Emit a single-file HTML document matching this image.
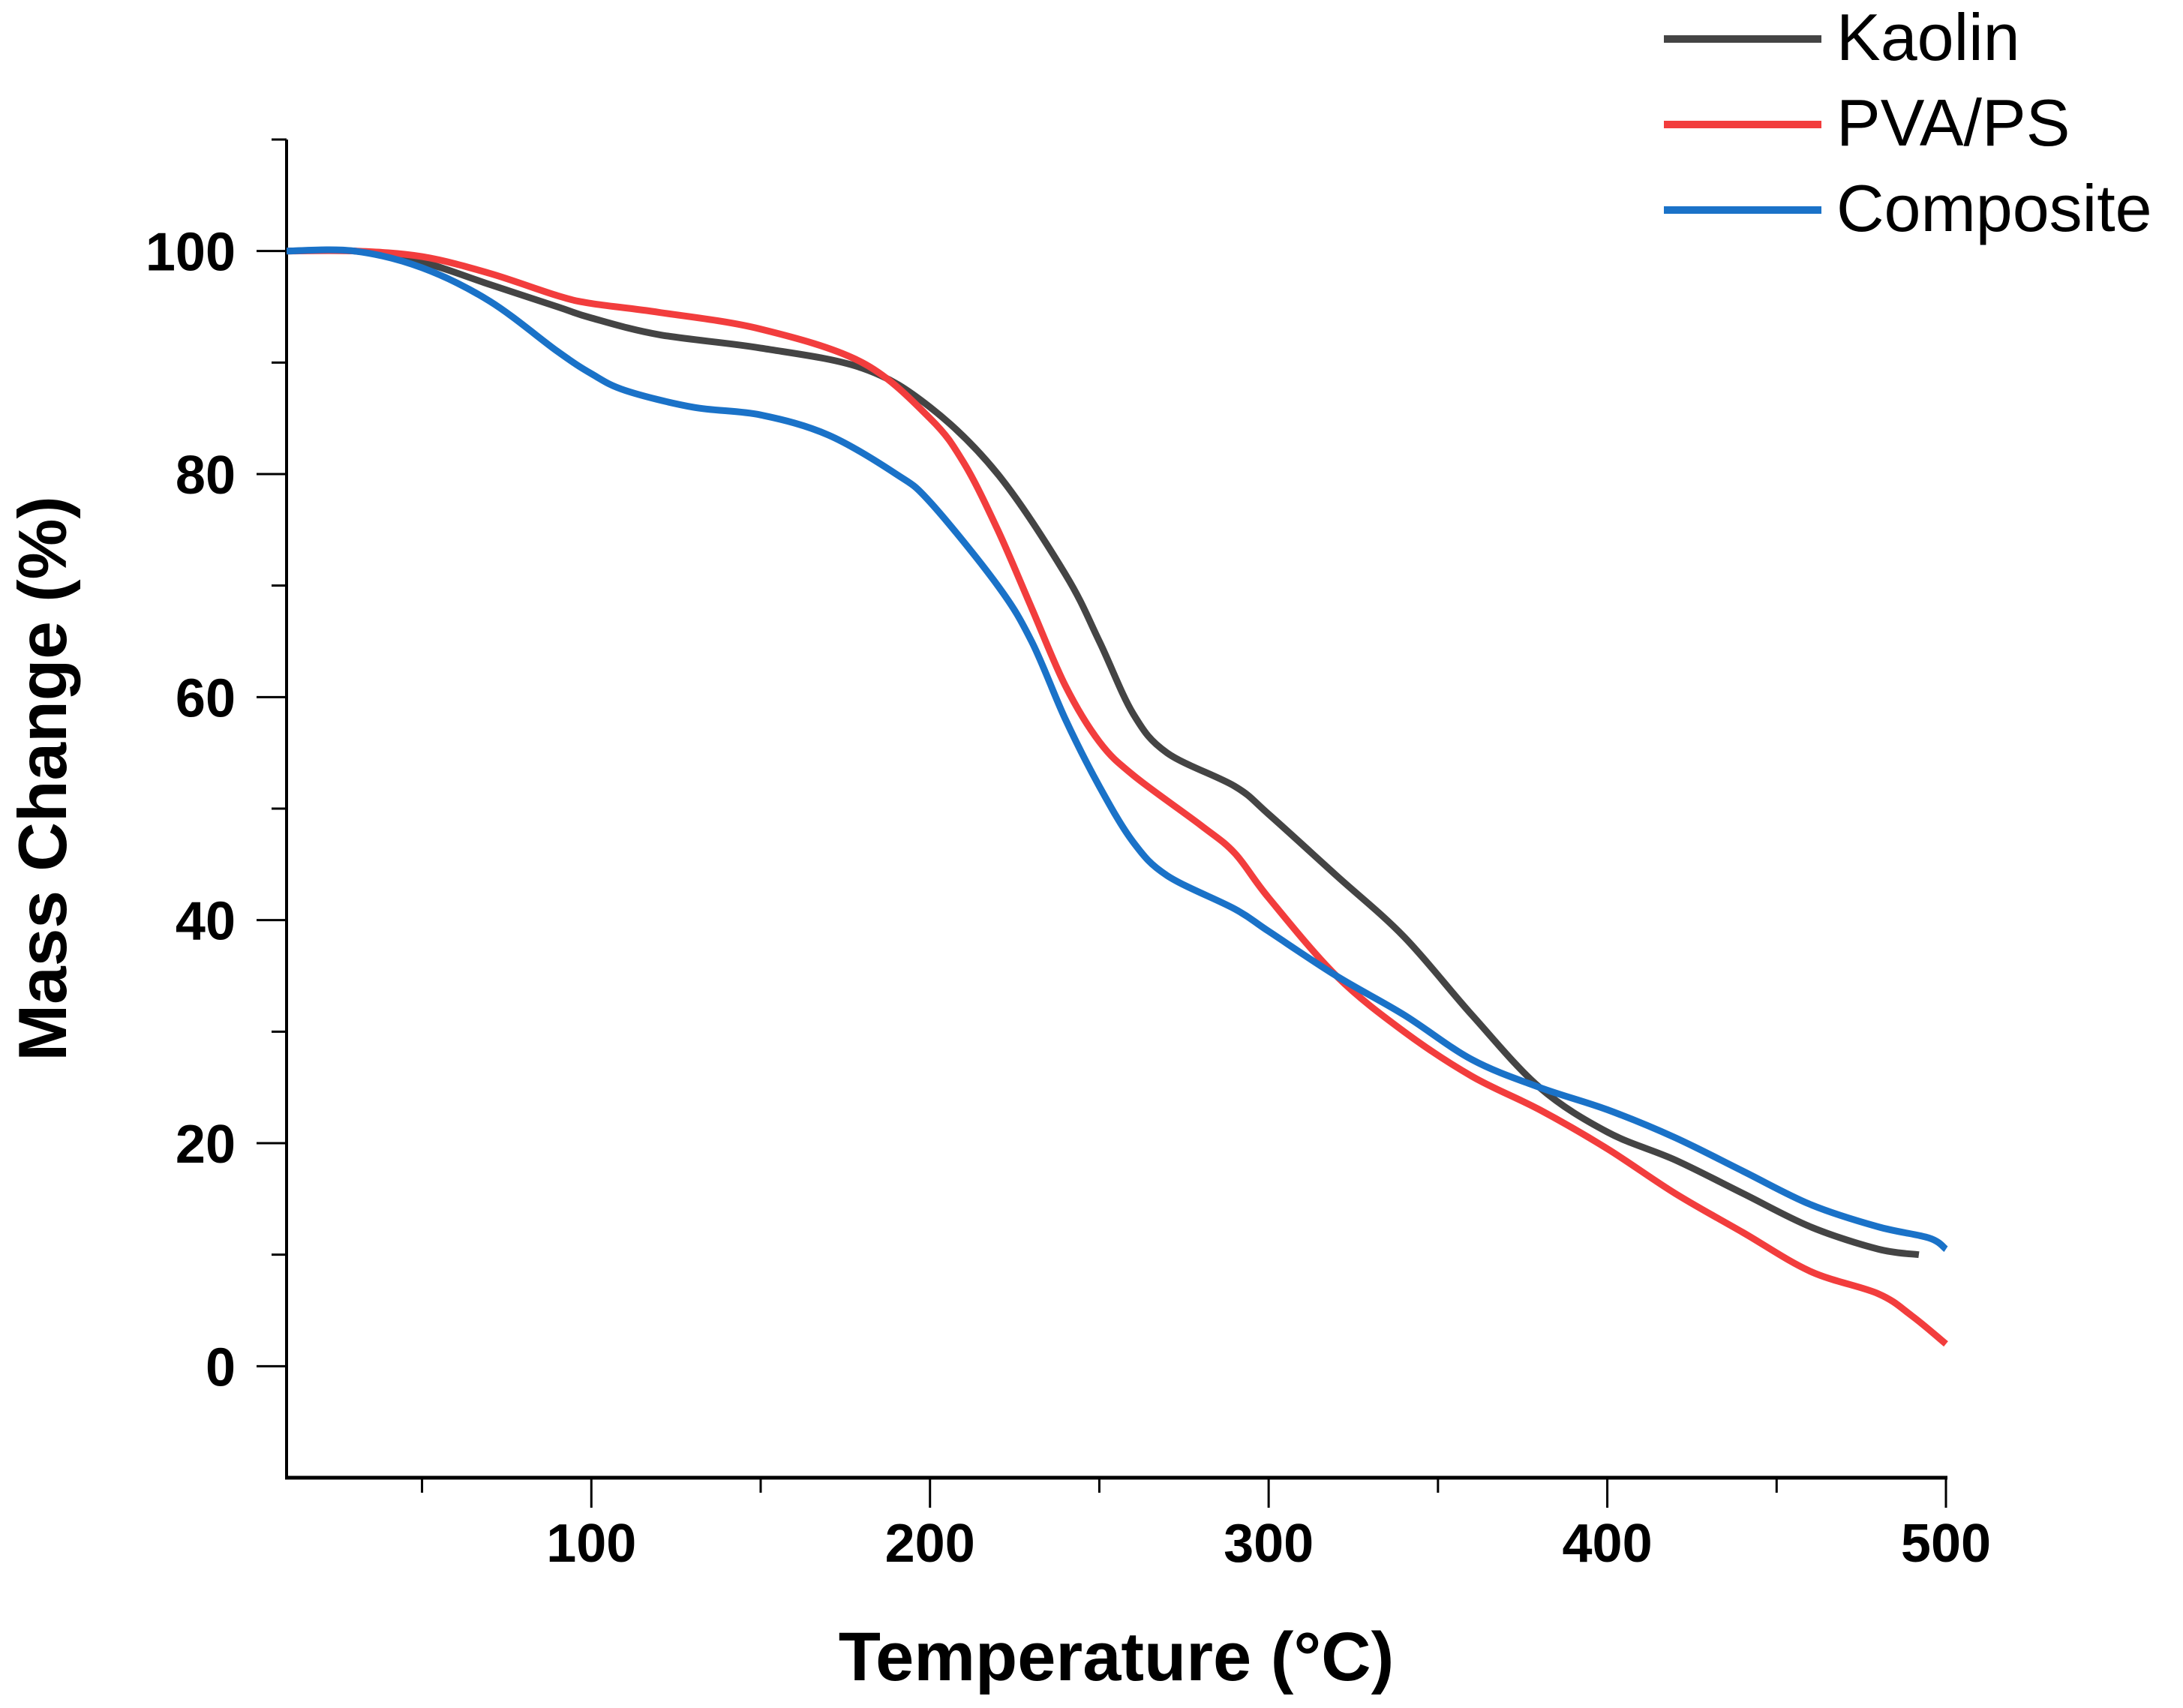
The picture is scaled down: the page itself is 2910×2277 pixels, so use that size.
<!DOCTYPE html>
<html><head><meta charset="utf-8"><style>
html,body{margin:0;padding:0;background:#fff;}
svg{display:block;font-family:"Liberation Sans",Arial,sans-serif;}
</style></head><body>
<svg id="chart" width="2910" height="2277" viewBox="0 0 2910 2277" xmlns="http://www.w3.org/2000/svg">
<g id="axes"></g>
<g id="series"></g>
<text x="1488" y="2240" font-size="92" font-weight="bold" text-anchor="middle">Temperature (°C)</text>
<text transform="translate(88,1038) rotate(-90)" font-size="91" font-weight="bold" text-anchor="middle">Mass Change (%)</text>
<g>
<line x1="2218" y1="52" x2="2428" y2="52" stroke="#444444" stroke-width="10"/>
<text x="2448" y="80" font-size="88">Kaolin</text>
<line x1="2218" y1="166" x2="2428" y2="166" stroke="#f23d3d" stroke-width="10"/>
<text x="2448" y="194" font-size="88">PVA/PS</text>
<line x1="2218" y1="280" x2="2428" y2="280" stroke="#1a72c8" stroke-width="10"/>
<text x="2448" y="308" font-size="88">Composite</text>
</g>
</svg>
<script>
const xTicks=[100,200,300,400,500];
const xMinor=[50,150,250,350,450];
const yTicks=[0,20,40,60,80,100];
const yMinor=[10,30,50,70,90,110];
const kaolinT=[10,30,50,70,90,100,120,150,180,200,220,240,250,260,270,290,300,320,340,360,380,400,420,440,460,480,492];
const kaolinM=[100,100,99,97,95,94,92.5,91.3,89.5,86,80,71,65,58.5,55,52,49.5,44,38.5,31.5,25,21,18.5,15.5,12.5,10.5,10];
const pvaT=[10,30,50,70,90,100,120,150,180,200,210,220,230,240,250,260,280,290,300,320,340,360,380,400,420,440,460,480,490,500];
const pvaM=[100,100,99.5,98,96,95.3,94.5,93,90,85,81,75,68,61,56,53,48.5,46,42,35,30,26,23,19.5,15.5,12,8.5,6.5,4.5,2];
const compT=[10,30,50,70,90,100,110,130,150,170,190,200,220,230,240,250,260,270,290,300,320,340,360,380,400,420,440,460,480,495,500];
const compM=[100,100,98.5,95.5,91,89,87.5,86,85.3,83.5,80,77.5,70,65,58,52,47,44,41,39,35,31.5,27.5,25,23,20.5,17.5,14.5,12.5,11.5,10.5];
const X0=382,X1=2594,XMIN=10,XMAX=500,Y0=1970,Y1=186,YMIN=-10,YMAX=110;
function sx(v){return X0+(v-XMIN)/(XMAX-XMIN)*(X1-X0);}
function sy(v){return Y0-(v-YMIN)/(YMAX-YMIN)*(Y0-Y1);}
const NS="http://www.w3.org/2000/svg";
function mk(tag,attrs,parent){const e=document.createElementNS(NS,tag);for(const k in attrs)e.setAttribute(k,attrs[k]);parent.appendChild(e);return e;}
const ax=document.getElementById('axes');
let e=mk('line',{x1:X0,y1:Y1,x2:X0,y2:Y0+2,stroke:'#000','stroke-width':4},ax);


e=mk('line',{x1:X0-2,y1:Y0,x2:X1+2,y2:Y0,stroke:'#000','stroke-width':5},ax);


xTicks.forEach(v=>{
 let t=mk('line',{x1:sx(v),y1:Y0,x2:sx(v),y2:Y0+40,stroke:'#000','stroke-width':3},ax);
 
 
 let l=mk('text',{x:sx(v),y:2082,'font-size':72,'font-weight':'bold','text-anchor':'middle'},ax);
 l.textContent=v;
 
 
});
xMinor.forEach(v=>{
 let t=mk('line',{x1:sx(v),y1:Y0,x2:sx(v),y2:Y0+20,stroke:'#000','stroke-width':3},ax);
 
 
});
yTicks.forEach(v=>{
 let t=mk('line',{x1:X0-40,y1:sy(v),x2:X0,y2:sy(v),stroke:'#000','stroke-width':3},ax);
 
 
 let l=mk('text',{x:X0-68,y:sy(v)+26,'font-size':72,'font-weight':'bold','text-anchor':'end'},ax);
 l.textContent=v;
 
 
});
yMinor.forEach(v=>{
 let t=mk('line',{x1:X0-20,y1:sy(v),x2:X0,y2:sy(v),stroke:'#000','stroke-width':3},ax);
 
 
});
function smooth(T,M){
 const p=T.map((t,i)=>[sx(t),sy(M[i])]);
 let d='M'+p[0][0]+','+p[0][1];
 for(let i=0;i<p.length-1;i++){
  const a=p[i-1]||p[i],b=p[i],c=p[i+1],n=p[i+2]||c;
  const c1=[b[0]+(c[0]-a[0])/6,b[1]+(c[1]-a[1])/6];
  const c2=[c[0]-(n[0]-b[0])/6,c[1]-(n[1]-b[1])/6];
  d+=' C'+c1[0]+','+c1[1]+' '+c2[0]+','+c2[1]+' '+c[0]+','+c[1];
 }
 return d;
}
const sg=document.getElementById('series');
let s=mk('path',{d:smooth(kaolinT,kaolinM),fill:'none',stroke:'#444444','stroke-width':9,'stroke-linejoin':'round'},sg);


s=mk('path',{d:smooth(pvaT,pvaM),fill:'none',stroke:'#f23d3d','stroke-width':9,'stroke-linejoin':'round'},sg);


s=mk('path',{d:smooth(compT,compM),fill:'none',stroke:'#1a72c8','stroke-width':9,'stroke-linejoin':'round'},sg);


</script>
</body></html>
